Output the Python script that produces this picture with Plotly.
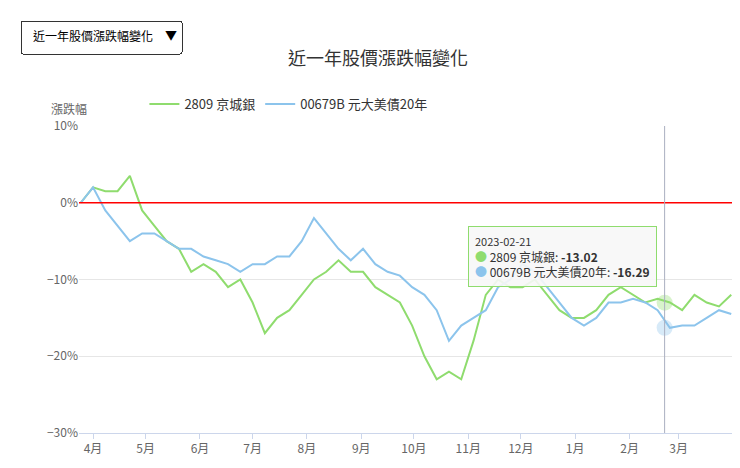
import plotly.graph_objects as go
import pandas as pd

dates = list(pd.date_range("2022-03-25", "2023-03-31", freq="7D").strftime("%Y-%m-%d"))
s2809 = [0, 2, 1.5, 1.5, 3.5, -1, -3, -5, -6, -9, -8, -9, -11, -10, -13, -17, -15, -14, -12, -10,
         -9, -7.5, -9, -9, -11, -12, -13, -16, -20, -23, -22, -23, -18, -12, -10, -11, -11, -10,
         -12, -14, -15, -15, -14, -12, -11, -12, -13, -12.5, -13, -14, -12, -13, -13.5, -12]
s00679 = [0, 2, -1, -3, -5, -4, -4, -5, -6, -6, -7, -7.5, -8, -9, -8, -8, -7, -7, -5, -2,
          -4, -6, -7.5, -6, -8, -9, -9.5, -11, -12, -14, -18, -16, -15, -14, -11, -10, -8, -9,
          -11, -13, -15, -16, -15, -13, -13, -12.5, -13, -14, -16.3, -16, -16, -15, -14, -14.5]
hover_date = "2023-02-21"
hover_vals = [-13.02, -16.29]
names = ["2809 京城銀", "00679B 元大美債20年"]
colors = ["#8fdc6e", "#8cc4ec"]
month_ticks = list(pd.date_range("2022-04-01", "2023-03-01", freq="MS").strftime("%Y-%m-%d"))
month_labels = [f"{int(d[5:7])}月" for d in month_ticks]

fig = go.Figure()
for n, s, c in zip(names, [s2809, s00679], colors):
    fig.add_trace(go.Scatter(x=dates, y=s, name=n, mode="lines", line=dict(color=c, width=2)))
for v, c in zip(hover_vals, colors):
    fig.add_trace(go.Scatter(x=[hover_date], y=[v], mode="markers", showlegend=False,
                             marker=dict(color=c, size=16, opacity=0.35)))
fig.add_hline(y=0, line=dict(color="red", width=1.5))
fig.add_vline(x=hover_date, line=dict(color="#aab0c0", width=1))
fig.add_annotation(x="2022-11-01", y=-3, xref="x", yref="y", xanchor="left", yanchor="top",
                   align="left", showarrow=False, bgcolor="rgba(247,247,247,0.9)",
                   bordercolor="#8fdc6e", borderwidth=1, borderpad=6,
                   text="<span style='font-size:11px'>2023-02-21</span><br>"
                        "<span style='color:#8fdc6e'>●</span> 2809 京城銀: <b>-13.02</b><br>"
                        "<span style='color:#8cc4ec'>●</span> 00679B 元大美債20年: <b>-16.29</b>",
                   font=dict(size=12, color="#333"))
fig.add_annotation(x=0.0, y=1.0, xref="paper", yref="paper", xshift=-30, yshift=28,
                   text="漲跌幅", showarrow=False, font=dict(size=12, color="#666"))
fig.update_layout(
    width=740, height=468, paper_bgcolor="white", plot_bgcolor="white",
    margin=dict(l=62, r=15, t=113, b=43),
    font=dict(family="Noto Sans CJK TC", color="#666"),
    title=dict(text="近一年股價漲跌幅變化", x=0.5, y=0.905, font=dict(size=18, color="#333")),
    legend=dict(orientation="h", x=0.1, y=1.12, xanchor="left", font=dict(size=13, color="#333")),
    showlegend=True,
    updatemenus=[dict(type="dropdown", x=-0.09, y=1.345, xanchor="left",
                      yanchor="top", pad=dict(l=0, t=0), bgcolor="white", bordercolor="#333",
                      font=dict(size=12, color="#000"),
                      buttons=[dict(label="近一年股價漲跌幅變化", method="skip", args=[None])])],
)
fig.update_xaxes(range=["2022-03-24", "2023-04-01"], tickvals=month_ticks, ticktext=month_labels,
                 showgrid=False, showline=True, linecolor="#ccd6eb", ticks="outside",
                 tickcolor="#ccd6eb", tickfont=dict(size=12, color="#666"))
fig.update_yaxes(range=[-30, 10], dtick=10, ticksuffix="%", gridcolor="#e6e6e6", zeroline=False,
                 tickfont=dict(size=12, color="#666"))
fig.write_html("out.html")
